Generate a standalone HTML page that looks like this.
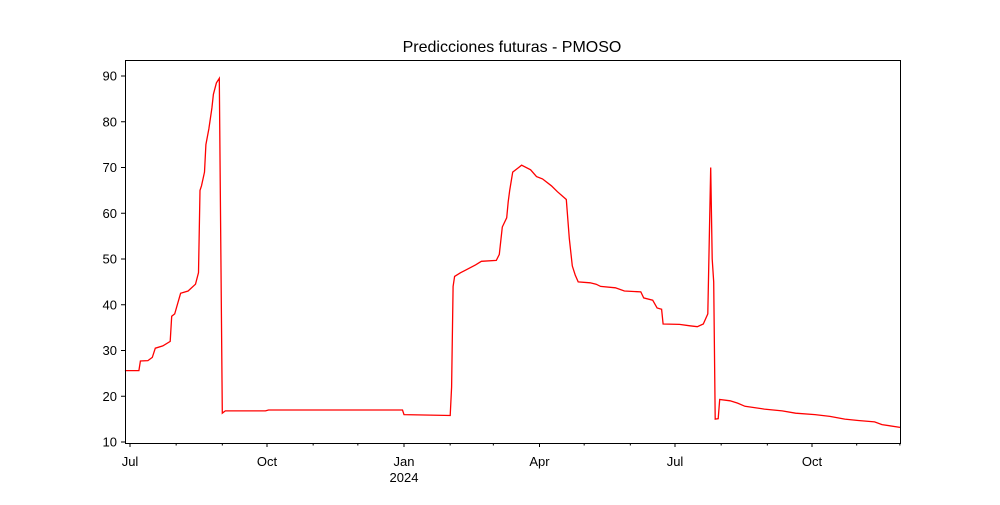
<!DOCTYPE html>
<html><head><meta charset="utf-8"><style>
body{margin:0;background:#fff}
svg text{font-family:"Liberation Sans","DejaVu Sans",sans-serif;font-size:13px;fill:#000}
</style></head><body>
<svg id="chart" width="1000" height="500" xmlns="http://www.w3.org/2000/svg">
<rect width="1000" height="500" fill="#fff"/>
<text x="512" y="52" text-anchor="middle" style="font-size:16px">Predicciones futuras - PMOSO</text>
<g id="axes"></g>
<path id="line" fill="none" stroke="#ff0000" stroke-width="1.3"/>
<rect x="125.5" y="60.5" width="775" height="383" fill="none" stroke="#000" stroke-width="1"/>
</svg>
<script>
// days since 2023-07-01
const days=[-3.4,6,7,12,15,17,22,27,28,30,34,39,44,46,47,48,50,51,53,55,56,58,60,62,64,91,93,183,184,215,216,217,218,222,225,232,236,246,248,250,253,254,255,257,261,263,269,273,277,283,287,293,295,297,299,301,309,313,316,326,332,343,345,351,354,357,358,369,376,381,385,388,390,391,392,393,395,396,403,408,413,426,438,447,460,470,480,489,500,505,517.1];
const values=[25.6,25.6,27.7,27.8,28.5,30.5,31,32,37.5,38,42.5,43,44.5,47,65,66,69,75,78.5,83,86,88.5,89.5,16.3,16.8,16.8,17,17,16,15.8,22,44,46.2,47,47.5,48.7,49.5,49.7,51,57,59,62.5,65,69,70,70.5,69.5,68,67.5,66,64.7,63,54.5,48.5,46.5,45,44.8,44.5,44,43.7,43,42.8,41.5,41,39.3,39,35.8,35.7,35.4,35.2,35.8,38,70,50,45,15,15.1,19.3,19,18.5,17.8,17.2,16.8,16.3,16,15.6,15,14.7,14.4,13.8,13.2];
const yTicks=[10,20,30,40,50,60,70,80,90];
const majorDays=[0,92,184,275,366,458];
const majorLabels=["Jul","Oct","Jan","Apr","Jul","Oct"];
const minorDays=[31,62,123,153,215,244,305,336,397,428,488,517];
const X=d=>130+d*1.4891;
const Y=v=>442-(v-10)*4.575;
const NS="http://www.w3.org/2000/svg";
const ax=document.getElementById('axes');
function mk(tag,attrs){const e=document.createElementNS(NS,tag);for(const k in attrs)e.setAttribute(k,attrs[k]);ax.appendChild(e);return e;}
yTicks.forEach(v=>{
  const l=mk('line',{x1:121,x2:125.5,y1:Y(v),y2:Y(v),stroke:'#000'});
  
  
  const t=mk('text',{x:117,y:Y(v)+4.5,'text-anchor':'end'});t.textContent=v;
  
  
});
majorDays.forEach((d,i)=>{
  const l=mk('line',{x1:X(d),x2:X(d),y1:443.5,y2:447,stroke:'#000'});
  
  
  const t=mk('text',{x:X(d),y:466,'text-anchor':'middle'});t.textContent=majorLabels[i];
  
  
});
minorDays.forEach(d=>{
  const l=mk('line',{x1:X(d),x2:X(d),y1:443.5,y2:445.5,stroke:'#000'});
  
  
});
const yr=mk('text',{x:X(184),y:482,'text-anchor':'middle'});yr.textContent='2024';


document.getElementById('line').setAttribute('d',days.map((d,i)=>(i?'L':'M')+X(d).toFixed(1)+','+Y(values[i]).toFixed(1)).join(''));
</script>
</body></html>
